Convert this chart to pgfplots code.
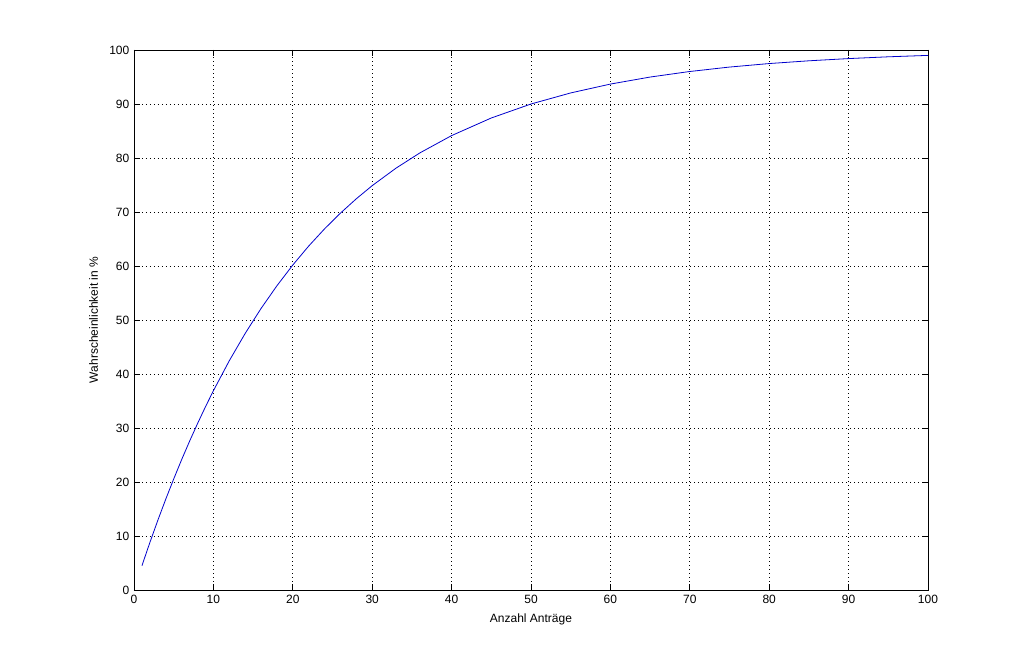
\documentclass[border=0pt]{standalone}
\usepackage{fontspec}
\setmainfont{Liberation Sans}
\usepackage{pgfplots}
\pgfplotsset{compat=1.18}
\usetikzlibrary{calc}
\begin{document}
\begin{tikzpicture}
\begin{axis}[
  name=ax,
  scale only axis,
  width=595.5pt, height=405pt,
  xmin=0, xmax=100, ymin=0, ymax=100,
  xtick={0,10,...,100}, ytick={0,10,...,100},
  tick align=inside,
  major tick length=4.5pt,
  xtick pos=both, ytick pos=both,
  grid=major,
  major grid style={black, dash pattern=on 0.6pt off 2.4pt, line width=0.6pt},
  axis line style={line width=0.6pt},
  tick style={black, line width=0.6pt},
  font=\fontsize{9}{10}\selectfont,
  /pgf/number format/assume math mode=true,
  xlabel={Anzahl Anträge},
  ylabel={Wahrscheinlichkeit in \%},
  xlabel style={yshift=-1pt},
  ylabel style={yshift=1.5pt},
  tick label style={font=\fontsize{9}{10}\selectfont},
]
\addplot[color=blue!80!black, line width=0.6pt] coordinates {
(1,4.50) (2,8.80) (3,12.90) (4,16.82) (5,20.56) (6,24.14) (7,27.55) (8,30.81)
(9,33.93) (10,36.90) (12,42.45) (14,47.51) (16,52.13) (18,56.34) (20,60.18)
(22,63.69) (24,66.88) (26,69.79) (28,72.45) (30,74.88) (33,78.12) (36,80.94)
(40,84.15) (45,87.41) (50,90.00) (55,92.05) (60,93.69) (65,94.99) (70,96.02)
(75,96.84) (80,97.49) (85,98.00) (90,98.41) (95,98.74) (100,99.00)
};
\end{axis}
\path ($(ax.south west)+(-100.5pt,-55.5pt)$) rectangle ($(ax.north east)+(72.75pt,37.5pt)$);
\end{tikzpicture}
\end{document}
